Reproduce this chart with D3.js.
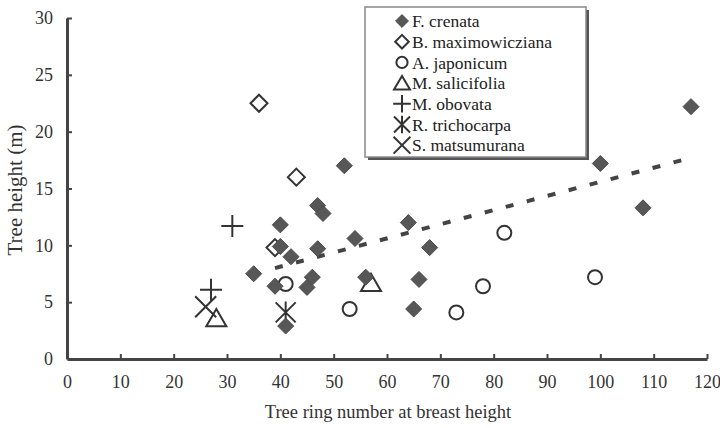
<!DOCTYPE html>
<html><head><meta charset="utf-8">
<script src="https://cdn.jsdelivr.net/npm/d3@7/dist/d3.min.js"></script>
<style>body{margin:0;background:#fff}svg{display:block}</style>
</head><body><svg id="c" width="720" height="428"></svg>
<script>
// ---- data ----
const seriesNames = ["F. crenata","B. maximowicziana","A. japonicum","M. salicifolia","M. obovata","R. trichocarpa","S. matsumurana"];
const fCrenataX = [35,39,40,40,42,41,45,46,47,47,48,52,54,56,64,65,66,68,100,108,117];
const fCrenataY = [7.5,6.4,11.8,9.9,9.0,2.9,6.3,7.2,9.7,13.5,12.8,17.0,10.6,7.2,12.0,4.4,7.0,9.8,17.2,13.3,22.2];
const bMaxX = [36,43,39];
const bMaxY = [22.5,16.0,9.8];
const aJapX = [41,53,73,78,82,99];
const aJapY = [6.6,4.4,4.1,6.4,11.1,7.2];
const mSalX = [28,57];
const mSalY = [3.6,6.7];
const mObX = [31,27];
const mObY = [11.7,6.1];
const rTriX = [41];
const rTriY = [4.1];
const sMatX = [26];
const sMatY = [4.6];
const trendX = [39,117];
const trendY = [8.0,17.7];
const xTicks = [0,10,20,30,40,50,60,70,80,90,100,110,120];
const yTicks = [0,5,10,15,20,25,30];

const svg = d3.select("#c");
const x = d3.scaleLinear().domain([0,120]).range([67,707]);
const y = d3.scaleLinear().domain([0,30]).range([359,18]);
const FONT = "'Liberation Serif','Times New Roman',serif";
const INK = "#333";

function drawMarker(g, shape, cx, cy, s) {
  if (shape === "fdiamond") {
    const h = 8*s;
    g.append("path").attr("d",`M${cx},${cy-h}L${cx+h},${cy}L${cx},${cy+h}L${cx-h},${cy}Z`)
      .attr("fill","#575757").attr("stroke","#4a4a4a").attr("stroke-width",1);
  } else if (shape === "odiamond") {
    const h = 8.5*s;
    g.append("path").attr("d",`M${cx},${cy-h}L${cx+h},${cy}L${cx},${cy+h}L${cx-h},${cy}Z`)
      .attr("fill","none").attr("stroke",INK).attr("stroke-width",2);
  } else if (shape === "circle") {
    g.append("circle").attr("cx",cx).attr("cy",cy).attr("r",7*s)
      .attr("fill","none").attr("stroke",INK).attr("stroke-width",2);
  } else if (shape === "triangle") {
    const w = 10*s, hh = 9*s;
    g.append("path").attr("d",`M${cx},${cy-hh}L${cx+w},${cy+hh*0.9}L${cx-w},${cy+hh*0.9}Z`)
      .attr("fill","none").attr("stroke",INK).attr("stroke-width",2);
  } else if (shape === "plus") {
    const h = 11*s;
    g.append("path").attr("d",`M${cx-h},${cy}H${cx+h}M${cx},${cy-h}V${cy+h}`)
      .attr("fill","none").attr("stroke",INK).attr("stroke-width",2);
  } else if (shape === "star") {
    const h = 10*s;
    g.append("path").attr("d",`M${cx-h},${cy-h}L${cx+h},${cy+h}M${cx+h},${cy-h}L${cx-h},${cy+h}M${cx},${cy-h*1.1}V${cy+h*1.1}`)
      .attr("fill","none").attr("stroke",INK).attr("stroke-width",2);
  } else if (shape === "cross") {
    const h = 10.5*s;
    g.append("path").attr("d",`M${cx-h},${cy-h}L${cx+h},${cy+h}M${cx+h},${cy-h}L${cx-h},${cy+h}`)
      .attr("fill","none").attr("stroke",INK).attr("stroke-width",2);
  }
}

// axes
const xAxis = d3.axisBottom(x).tickValues(xTicks).tickSize(-5).tickSizeOuter(0).tickPadding(16);
const yAxis = d3.axisLeft(y).tickValues(yTicks).tickSize(-5).tickSizeOuter(0).tickPadding(14);
const gx = svg.append("g").attr("transform","translate(0,359)").call(xAxis);
const gy = svg.append("g").attr("transform","translate(67,0)").call(yAxis);
[gx,gy].forEach(g=>{
  g.attr("font-family",FONT);
  g.select(".domain").attr("stroke","#444").attr("stroke-width",3);
  g.selectAll(".tick line").attr("stroke","#444").attr("stroke-width",2);
  g.selectAll(".tick text").attr("font-family",FONT).attr("font-size",18).attr("fill",INK);
});
gx.selectAll(".tick").filter(d=>d===0).select("line").remove();
gy.selectAll(".tick").filter(d=>d===0).select("line").remove();

// axis titles
svg.append("text").attr("x",388).attr("y",418).attr("text-anchor","middle")
  .attr("font-family",FONT).attr("font-size",18.5).attr("fill",INK).text("Tree ring number at breast height");
svg.append("text").attr("transform","translate(22,190) rotate(-90)").attr("text-anchor","middle")
  .attr("font-family",FONT).attr("font-size",21).attr("fill",INK).text("Tree height (m)");

// trend line
svg.append("line").attr("x1",x(trendX[0])).attr("y1",y(trendY[0])).attr("x2",x(trendX[1])).attr("y2",y(trendY[1]))
  .attr("stroke","#444").attr("stroke-width",4).attr("stroke-dasharray","8,13.7");

// points
const plot = svg.append("g");
const layers = [
  ["odiamond",bMaxX,bMaxY],["circle",aJapX,aJapY],["triangle",mSalX,mSalY],
  ["plus",mObX,mObY],["star",rTriX,rTriY],["cross",sMatX,sMatY],["fdiamond",fCrenataX,fCrenataY]
];
layers.forEach(([sh,xs,ys])=>{ xs.forEach((v,i)=>drawMarker(plot,sh,x(v),y(ys[i]),1)); });

// legend
const lg = svg.append("g");
lg.append("rect").attr("x",368).attr("y",10).attr("width",221).attr("height",150).attr("fill","#555");
lg.append("rect").attr("x",365).attr("y",7).attr("width",221).attr("height",150).attr("fill","#fff")
  .attr("stroke","#888").attr("stroke-width",1.5);
const legShapes = ["fdiamond","odiamond","circle","triangle","plus","star","cross"];
seriesNames.forEach((n,i)=>{
  const cy = 21 + i*20.7;
  drawMarker(lg, legShapes[i], 402, cy, 0.8);
  lg.append("text").attr("x",412).attr("y",cy).attr("dy","0.35em")
    .attr("font-family",FONT).attr("font-size",17.5).attr("fill","#222").text(n);
});
</script></body></html>
